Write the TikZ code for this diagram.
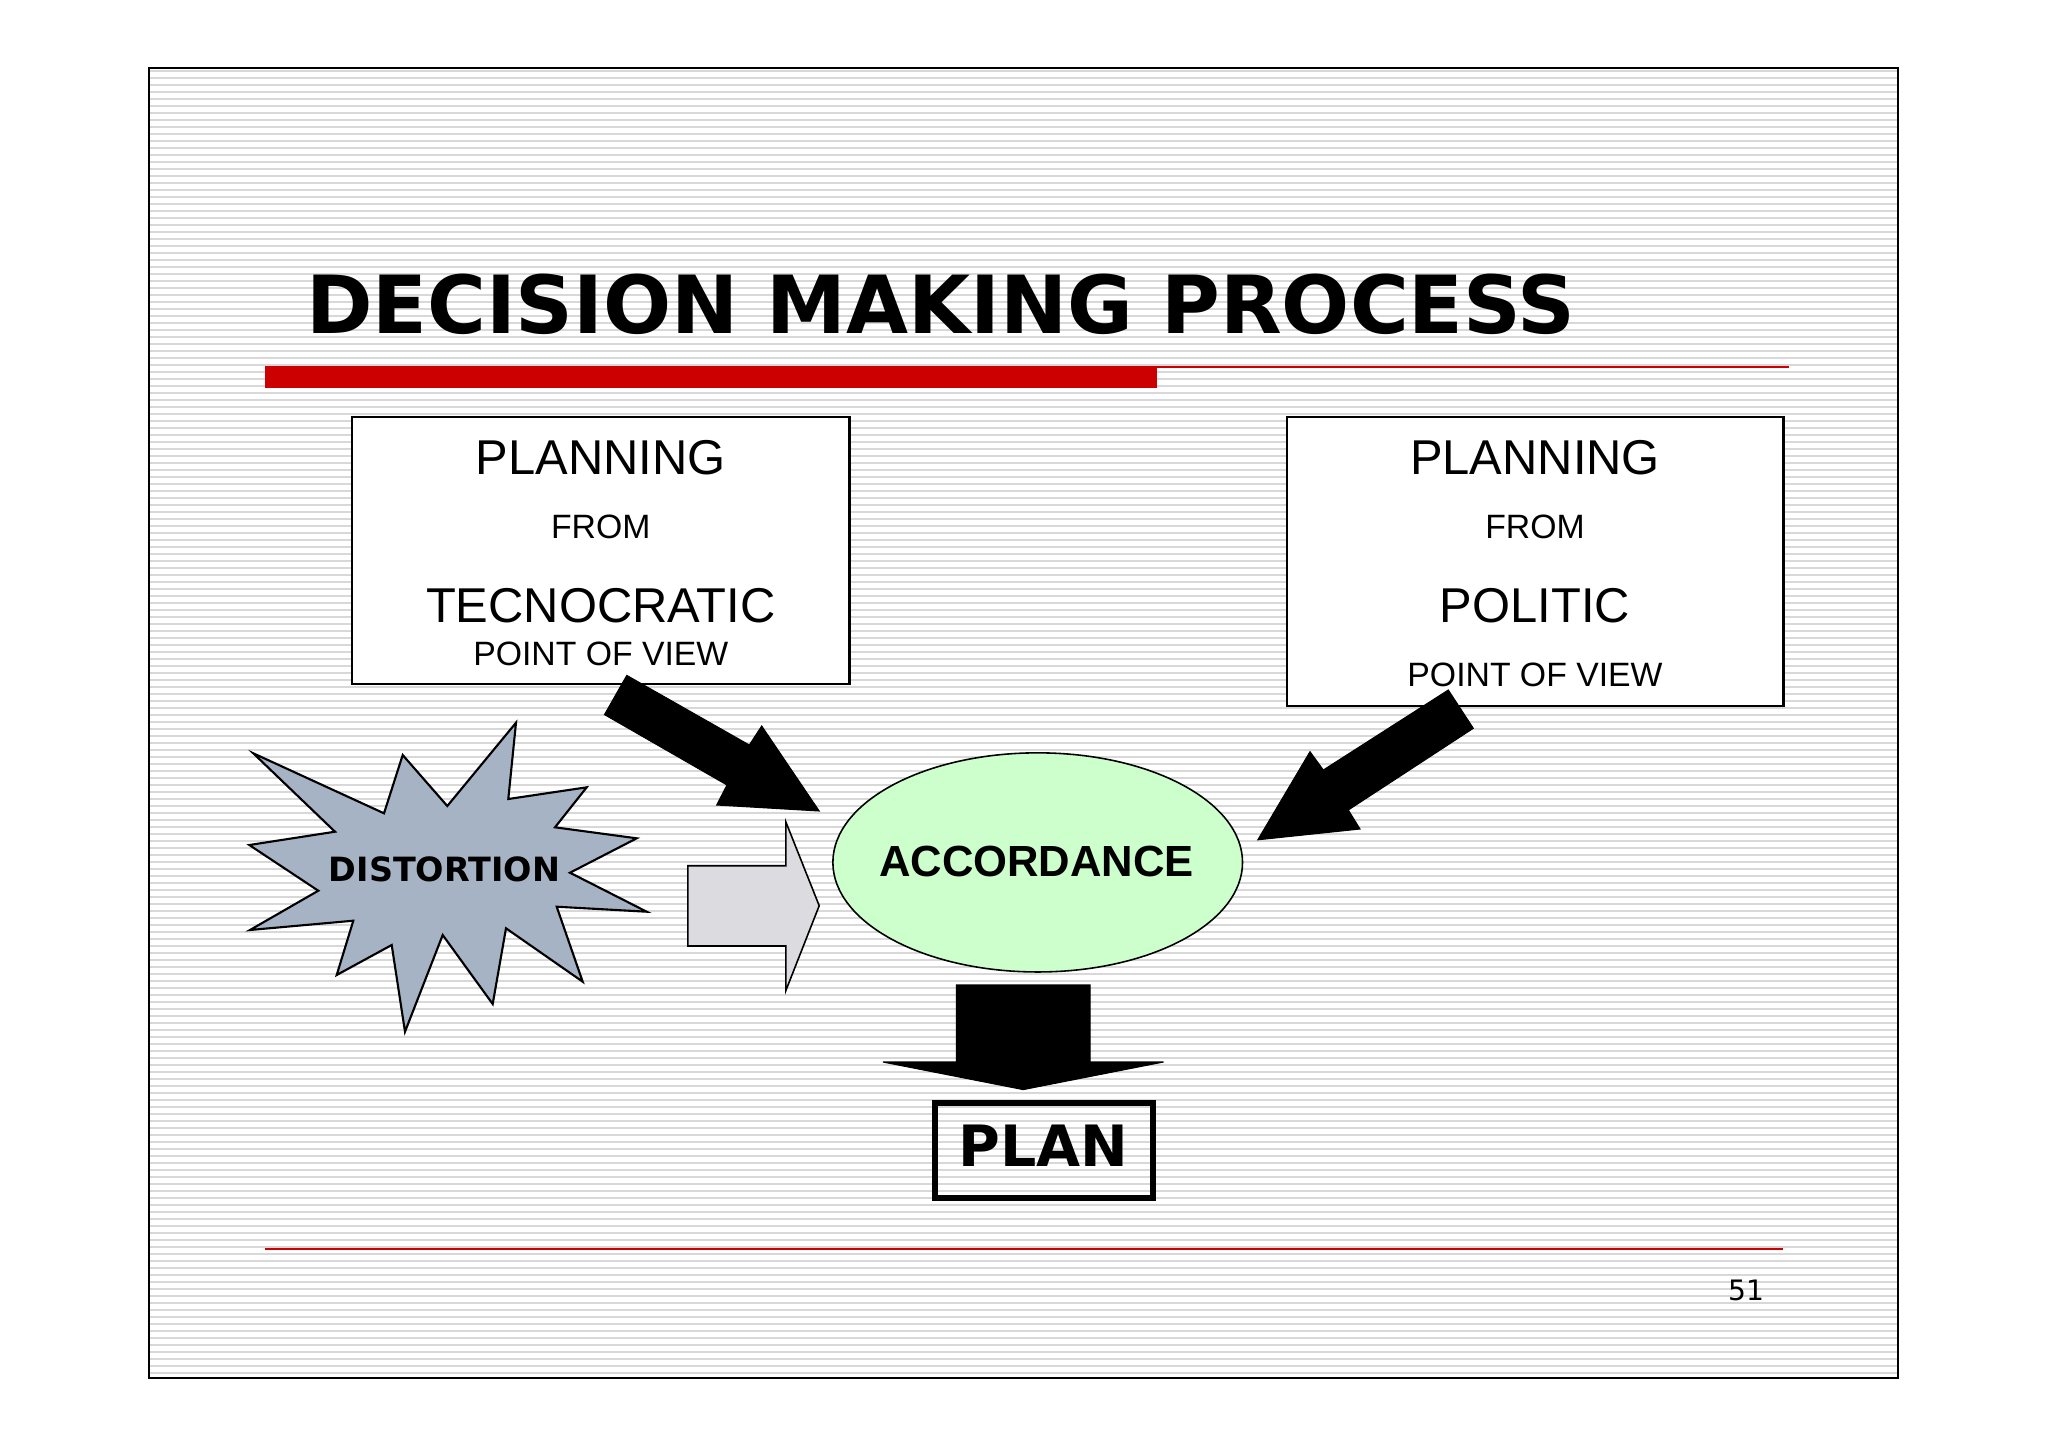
\documentclass[tikz,border=0pt]{standalone}
\usepackage{fontspec}
\setmainfont{Liberation Sans}
\newfontfamily\vfont{DejaVu Sans}
\usepackage{tikz}
\usetikzlibrary{shapes.geometric}

\definecolor{slidered}{RGB}{204,0,0}
\definecolor{stripegray}{RGB}{216,216,216}
\definecolor{burstblue}{RGB}{166,179,196}
\definecolor{accgreen}{RGB}{204,255,204}
\definecolor{arrowgray}{RGB}{220,220,224}

\begin{document}
\begin{tikzpicture}[x=0.01cm,y=-0.01cm]

      \tikzstyle{every node}=[inner sep=0pt,outer sep=0pt]
      \tikzstyle{pbox}=[draw,line width=0.6pt,fill=white]
      \tikzstyle{big}=[anchor=base,font=\fontsize{13.9}{16}\selectfont]
      \tikzstyle{small}=[anchor=base,font=\fontsize{9.6}{11}\selectfont]
      \tikzstyle{blockarrow}=[fill=black,draw=black,line width=0.3pt,line join=miter]

      \useasboundingbox (0,0) rectangle (2048,1448);
      \fill[white] (0,0) rectangle (2048,1448);

      % striped slide
      \foreach \yy in {71,78,...,1375}
          \draw[stripegray,line width=0.6pt] (150,\yy) -- (1897,\yy);
      \draw[line width=0.7pt] (149,68) rectangle (1898,1378);

      \node (title) [anchor=base west,font=\vfont\bfseries\fontsize{22.8}{26}\selectfont]
          at (306,333) {DECISION MAKING PROCESS};
      \fill[slidered] (265,366) rectangle (1157,388);
      \draw[slidered,line width=0.6pt] (1157,366.8) -- (1789,366.8);
      \draw[slidered,line width=0.6pt] (265,1249) -- (1783,1249);
      \node (page) [anchor=base,font=\vfont\fontsize{8}{9}\selectfont] at (1746,1300.7) {51};

      \node (tecno) [pbox,minimum width=4.97cm,minimum height=2.67cm] at (600.8,550.8) {};
      \node [big] at (600.8,474) {PLANNING};
      \node [small] at (600.8,538.3) {FROM};
      \node [big] at (600.8,622.3) {TECNOCRATIC};
      \node [small] at (600.8,665.7) {POINT OF VIEW};

      \node (politic) [pbox,minimum width=4.966cm,minimum height=2.884cm] at (1535,561.5) {};
      \node [big] at (1535,474) {PLANNING};
      \node [small] at (1535,538.3) {FROM};
      \node [big] at (1535,622.3) {POLITIC};
      \node [small] at (1535,686.7) {POINT OF VIEW};

      \draw[fill=burstblue,line width=0.6pt,line join=miter]
          (253.3,753.3) -- (384,813.3) -- (402.7,755) -- (447.3,806)
          -- (516,722.7) -- (508.3,799) -- (586.7,787.3) -- (555,827.3)
          -- (636.7,838.3) -- (570,872.7) -- (646.7,911.7) -- (556.7,906.7)
          -- (582.7,981.7) -- (506,928.3) -- (492.7,1004) -- (442.7,935)
          -- (405,1031.7) -- (391.7,945) -- (336.7,975) -- (353.3,920.7)
          -- (250,930) -- (318.3,890.7) -- (249.3,845) -- (335,831.7) -- cycle;
      \node (distortion) [anchor=base,font=\vfont\bfseries\fontsize{9.5}{11}\selectfont]
          at (444.5,881) {DISTORTION};

      \node (acc) [draw,ellipse,fill=accgreen,line width=0.45pt,minimum width=4.094cm,
          minimum height=2.19cm] at (1037.7,862.4) {};
      \node [anchor=base,font=\bfseries\fontsize{12.4}{14}\selectfont]
          at (1036.5,876.4) {ACCORDANCE};

      \node (plan) [draw,line width=1.7pt,minimum width=2.176cm,minimum height=0.954cm]
          at (1043.7,1150.3) {};
      \node [anchor=base,font=\vfont\bfseries\fontsize{16.2}{18}\selectfont]
          at (1043.7,1166.4) {PLAN};

      % block arrows
      \draw[blockarrow] (626.8,675.4) -- (749.3,745) -- (761.7,726) -- (819.2,811)
          -- (716.7,805) -- (727,785) -- (604.5,714.6) -- cycle;
      \draw[blockarrow] (1448.3,690) -- (1323.3,770) -- (1310,751.7) -- (1257.8,839.8)
          -- (1360,829) -- (1348.3,810) -- (1473.3,728.3) -- cycle;
      \draw[blockarrow] (956.4,985) -- (1090,985) -- (1090,1062) -- (1163.5,1062)
          -- (1023.2,1089.6) -- (882.9,1062) -- (956.4,1062) -- cycle;
      \draw[fill=arrowgray,line width=0.45pt,line join=miter]
          (687.8,865.7) -- (785.8,865.7) -- (785.8,821.8) -- (819.2,905.7)
          -- (785.8,990.7) -- (785.8,946) -- (687.8,946) -- cycle;

    \end{tikzpicture}
\end{document}
